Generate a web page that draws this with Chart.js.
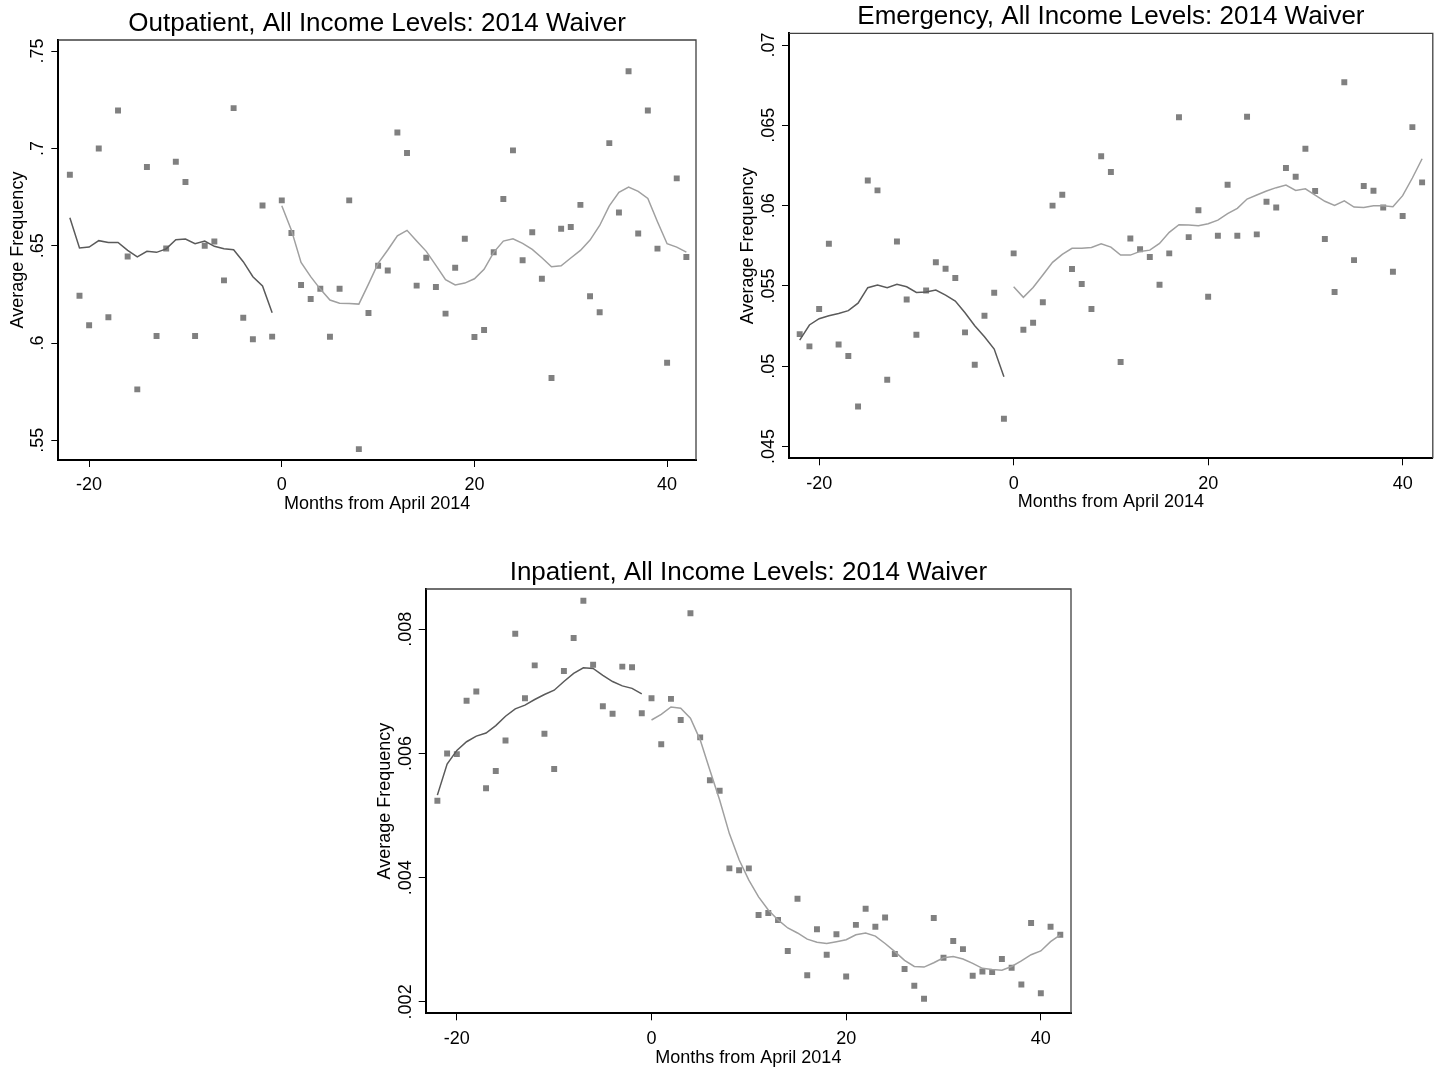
<!DOCTYPE html>
<html>
<head>
<meta charset="utf-8">
<script src="https://cdn.jsdelivr.net/npm/chart.js"></script>
<style>
  html, body { margin: 0; padding: 0; background: #fff; overflow: hidden; }
  body { width: 1437px; height: 1070px; position: relative; }
  canvas { position: absolute; }
</style>
</head>
<body>
<canvas id="outpatient" width="710" height="520" style="left:0px;top:0px"></canvas>
<canvas id="emergency" width="707" height="520" style="left:730px;top:0px"></canvas>
<canvas id="inpatient" width="715" height="530" style="left:367px;top:540px"></canvas>
<script>
// months relative to April 2014
const preMonths = [-22, -21, -20, -19, -18, -17, -16, -15, -14, -13, -12, -11, -10, -9, -8, -7, -6, -5, -4, -3, -2, -1];
const postMonths = [0, 1, 2, 3, 4, 5, 6, 7, 8, 9, 10, 11, 12, 13, 14, 15, 16, 17, 18, 19, 20,
  21, 22, 23, 24, 25, 26, 27, 28, 29, 30, 31, 32, 33, 34, 35, 36, 37, 38, 39, 40, 41, 42];
const allMonths = preMonths.concat(postMonths);
const xTicks = [-20, 0, 20, 40];

// Outpatient
const outpatientAvg = [.6865, .6243, .6091, .7000, .6132, .7195, .6445, .5762, .6904, .6036, .6486,
  .6931, .6827, .6036, .6500, .6522, .6322, .7207, .6130, .6019, .6707, .6033,
  .6733, .6565, .6298, .6226, .6279, .6032, .6279, .6733, .5455, .6154, .6397, .6373, .7082, .6976,
  .6295, .6438, .6288, .6151, .6387, .6536, .6031, .6067, .6466, .6740, .6990, .6425, .6569, .6330,
  .5820, .6587, .6596, .6710, .6240, .6158, .7027, .6671, .7396, .6563, .7195, .6485, .5899, .6846, .6442];
const outpatientPre = [.6644, .6488, .6493, .6526, .6517, .6517, .6476, .6443, .6471, .6466, .6484,
  .6531, .6534, .6510, .6524, .6497, .6484, .6479, .6418, .6341, .6293, .6156];
const outpatientPost = [.6705, .6580, .6414, .6341, .6277, .6221, .6204, .6203, .6200, .6303,
  .6409, .6478, .6551, .6579, .6524, .6471, .6399, .6325, .6298, .6308,
  .6330, .6379, .6466, .6524, .6536, .6512, .6481, .6438, .6392, .6397,
  .6437, .6476, .6529, .6604, .6705, .6774, .6801, .6779, .6743, .6623,
  .6510, .6493, .6467];
const outpatientTicks = [.55, .6, .65, .7, .75];

// Emergency
const emergencyAvg = [.0520, .05124, .05356, .05763, .05136, .05064, .0475, .06157, .06095, .04916, .05777,
  .05416, .05196, .05472, .05647, .05607, .05549, .05211, .0501, .05315, .05458, .04673,
  .05703, .05227, .05271, .05398, .0600, .06068, .05605, .05512, .05356, .06307,
  .06209, .05026, .05796, .05728, .0568, .05508, .05703, .0655, .05804, .05971,
  .05433, .05813, .0613, .05813, .06554, .05821, .06024, .05989, .06234, .0618,
  .06354, .06091, .05792, .05462, .06768, .05661, .06122, .06093, .05989, .05589,
  .05935, .06489, .06145];
const emergencyPre = [.05163, .05257, .05296, .05315, .05329, .05346, .05393, .05489, .05506, .05489, .0551,
  .05495, .0546, .05462, .05474, .05443, .05406, .05333, .05252, .05184, .05107, .04935];
const emergencyPost = [.05495, .05429, .05491, .05568, .05647, .05697, .05734, .05734, .0574, .05763,
  .05742, .05692, .05692, .05715, .05723, .05765, .05834, .05881, .05879, .05875,
  .05887, .0591, .0595, .05983, .06041, .06066, .06091, .06112, .06128, .06095,
  .06105, .06066, .06027, .06002, .0603, .05991, .05989, .06, .06, .05993,
  .06062, .06172, .06292];
const emergencyTicks = [.045, .05, .055, .06, .065, .07];

// Inpatient
const inpatientAvg = [.00524, .0060, .00599, .00685, .0070, .00544, .00572, .00621, .00793, .00689, .00742,
  .00632, .00575, .00733, .00786, .00846, .00743, .00676, .00664, .0074, .00739, .00665,
  .00689, .00615, .00688, .00654, .00826, .00626, .00557, .0054, .00415, .00412,
  .00415, .0034, .00343, .00332, .00282, .00366, .00243, .00317, .00276, .00309,
  .00241, .00324, .0035, .00321, .00336, .00277, .00253, .00226, .00205, .00335,
  .00271, .00298, .00285, .00242, .00249, .00248, .00269, .00255, .00228, .00327,
  .00214, .00321, .00308];
const inpatientPre = [.00533, .00583, .00605, .00619, .00628, .00633, .00645, .0066, .00672, .00678, .00687,
  .00695, .00702, .00716, .00729, .00738, .00737, .00726, .00716, .00709, .00705, .00696];
const inpatientPost = [.00654, .00663, .00675, .00673, .00657, .00622, .00573, .00525, .00471, .00429,
  .00396, .00369, .00348, .00332, .00319, .00311, .00301, .00296, .00294, .00297,
  .003, .00308, .00311, .00306, .00294, .00281, .00267, .00257, .00256, .00263,
  .00271, .00273, .00269, .00262, .00254, .00252, .00251, .00257, .00266, .00276,
  .00282, .00297, .00308];
const inpatientTicks = [.002, .004, .006, .008];

const FONT = '"Liberation Sans", Arial, Helvetica, sans-serif';
Chart.defaults.font.family = FONT;
Chart.defaults.color = '#000';

const stataFmt = v => String(v).replace(/^0\./, '.');
const toXY = (xs, ys) => xs.map((x, i) => ({ x: x, y: ys[i] }));

// top/right frame lines and vertical y tick labels
const stataFrame = {
  id: 'stataFrame',
  afterDraw(chart) {
    const { ctx, chartArea: a } = chart;
    const y = chart.scales.y;
    ctx.save();
    ctx.strokeStyle = '#404040';
    ctx.lineWidth = 1.3;
    ctx.beginPath();
    ctx.moveTo(a.left, a.top);
    ctx.lineTo(a.right, a.top);
    ctx.lineTo(a.right, a.bottom);
    ctx.stroke();

    ctx.fillStyle = '#000';
    ctx.font = '18px ' + FONT;
    ctx.textAlign = 'center';
    ctx.textBaseline = 'middle';
    y.ticks.forEach(t => {
      ctx.save();
      ctx.translate(a.left - 20, y.getPixelForValue(t.value));
      ctx.rotate(-Math.PI / 2);
      ctx.fillText(stataFmt(t.value), 0, 0);
      ctx.restore();
    });
    ctx.restore();
  }
};

function makePanel(id, p) {
  return new Chart(document.getElementById(id), {
    type: 'scatter',
    data: {
      datasets: [
        {
          data: toXY(allMonths, p.avg),
          pointStyle: 'rect',
          pointRadius: 4.2,
          pointBorderWidth: 0,
          backgroundColor: '#808080',
          showLine: false,
          order: 2
        },
        {
          data: toXY(preMonths, p.pre),
          showLine: true,
          borderColor: '#5a5a5a',
          borderWidth: 1.5,
          pointRadius: 0,
          tension: 0,
          order: 1
        },
        {
          data: toXY(postMonths, p.post),
          showLine: true,
          borderColor: '#a0a0a0',
          borderWidth: 1.5,
          pointRadius: 0,
          tension: 0,
          order: 1
        }
      ]
    },
    options: {
      responsive: false,
      animation: false,
      devicePixelRatio: 1,
      events: [],
      layout: { padding: { left: 0, right: p.padRight, top: 0, bottom: 0 } },
      plugins: {
        legend: { display: false },
        tooltip: { enabled: false },
        title: {
          display: true,
          text: p.title,
          fullSize: false,
          color: '#000',
          font: { size: 26, weight: 'normal' },
          padding: p.titlePad
        }
      },
      scales: {
        x: {
          type: 'linear',
          min: p.xMin,
          max: p.xMax,
          afterBuildTicks: s => { s.ticks = xTicks.map(v => ({ value: v })); },
          afterFit: s => { s.height = p.xAxisH; },
          ticks: { font: { size: 18 }, color: '#000', padding: 7.5, maxRotation: 0 },
          grid: { drawOnChartArea: false, drawTicks: true, tickLength: 7, color: '#000', lineWidth: 1 },
          border: { display: true, color: '#000', width: 2 },
          title: {
            display: true,
            text: 'Months from April 2014',
            font: { size: 18 },
            color: '#000',
            padding: { top: 0, bottom: p.xTitlePad }
          }
        },
        y: {
          type: 'linear',
          min: p.yMin,
          max: p.yMax,
          afterBuildTicks: s => { s.ticks = p.yTicks.map(v => ({ value: v })); },
          afterFit: s => { s.width = p.yAxisW; },
          ticks: { display: false },
          grid: { drawOnChartArea: false, drawTicks: true, tickLength: 7, color: '#000', lineWidth: 1 },
          border: { display: true, color: '#000', width: 2 },
          title: {
            display: true,
            text: 'Average Frequency',
            font: { size: 18 },
            color: '#000',
            padding: { top: 7.2, bottom: 0 }
          }
        }
      }
    },
    plugins: [stataFrame]
  });
}

makePanel('outpatient', {
  title: 'Outpatient, All Income Levels: 2014 Waiver',
  avg: outpatientAvg, pre: outpatientPre, post: outpatientPost, yTicks: outpatientTicks,
  xMin: -23.2, xMax: 43.0, yMin: 0.5399, yMax: 0.7557,
  titlePad: { top: 8.4, bottom: 0.4 }, xAxisH: 60, yAxisW: 58.3, padRight: 14, xTitlePad: 5.2
});

makePanel('emergency', {
  title: 'Emergency, All Income Levels: 2014 Waiver',
  avg: emergencyAvg, pre: emergencyPre, post: emergencyPost, yTicks: emergencyTicks,
  xMin: -23.1, xMax: 43.1, yMin: 0.04427, yMax: 0.07073,
  titlePad: { top: 1.2, bottom: 0.9 }, xAxisH: 61.7, yAxisW: 59, padRight: 1, xTitlePad: 7.2
});

makePanel('inpatient', {
  title: 'Inpatient, All Income Levels: 2014 Waiver',
  avg: inpatientAvg, pre: inpatientPre, post: inpatientPost, yTicks: inpatientTicks,
  xMin: -23.2, xMax: 43.1, yMin: 0.001816, yMax: 0.00865,
  titlePad: { top: 16.9, bottom: 0.9 }, xAxisH: 56.7, yAxisW: 58.7, padRight: 11, xTitlePad: 1.2
});
</script>
</body>
</html>
